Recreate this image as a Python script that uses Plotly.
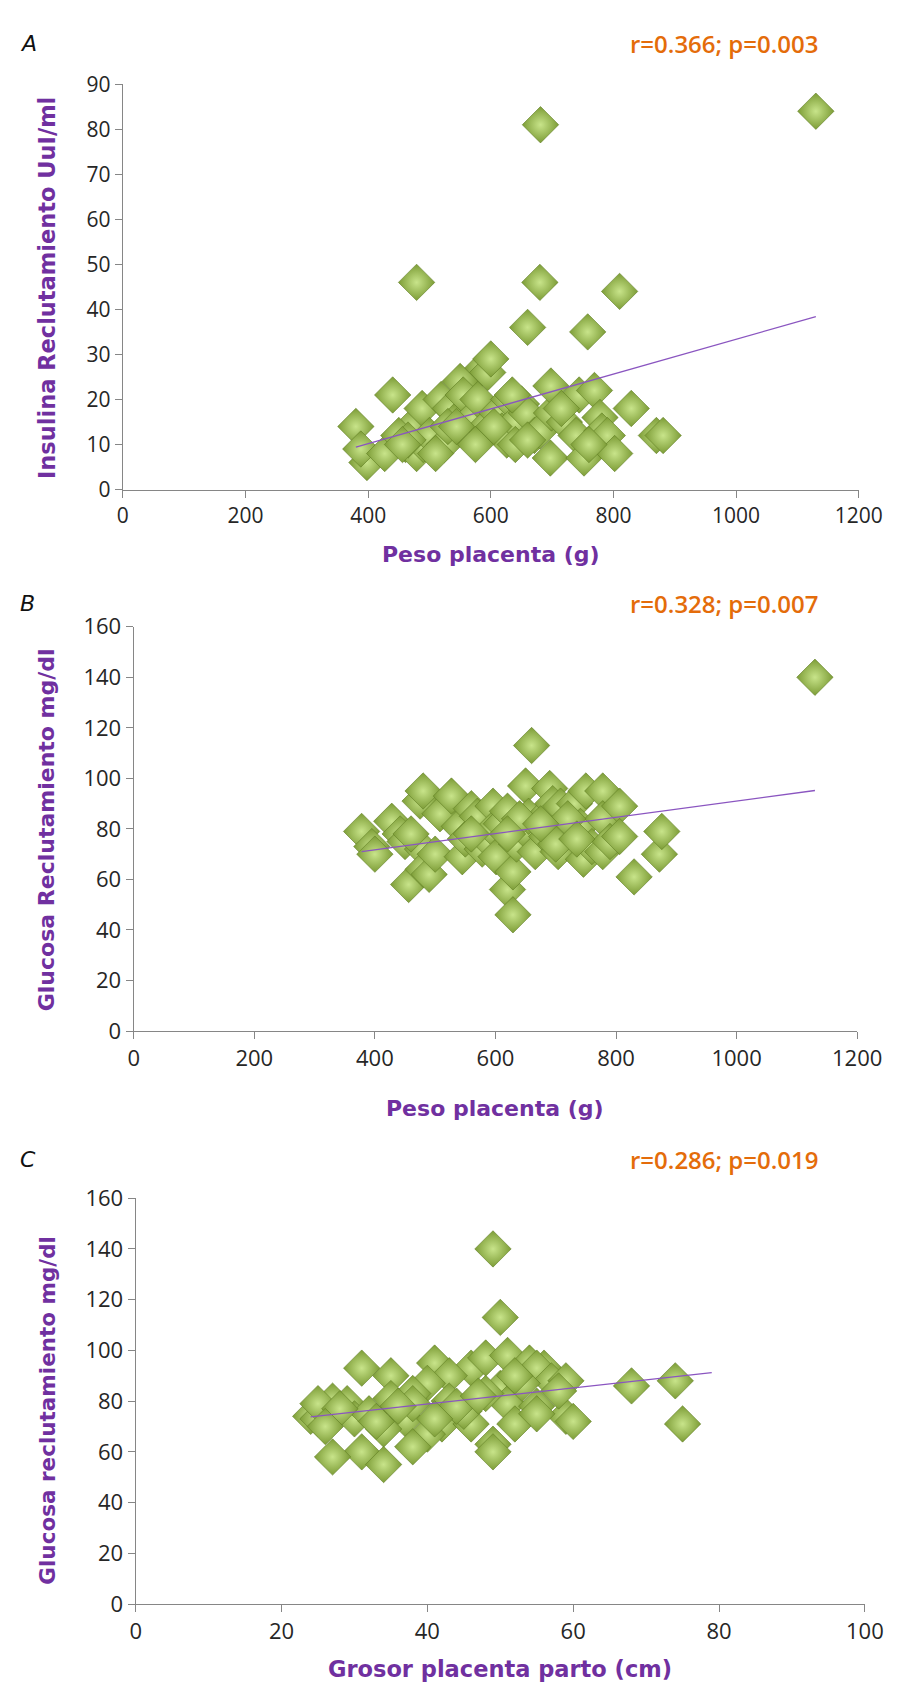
import plotly.graph_objects as go

# Panel A: Peso placenta (g) vs Insulina reclutamiento
peso_a = [380, 398, 388, 427, 440, 461, 471, 479, 488, 490, 500, 519, 524, 534, 540,
          550, 555, 560, 570, 579, 587, 595, 600, 592, 610, 618, 626, 629, 640, 650,
          658, 660, 671, 680, 697, 699, 698, 720, 744, 739, 752, 758, 769, 778, 781,
          790, 802, 810, 829, 870, 881, 479, 680, 681, 1130, 450, 465, 510, 530, 575,
          605, 640, 660, 715, 760, 635, 456, 544]
insulina_a = [14, 6, 9, 8, 21, 10, 14, 8, 18, 10, 12, 20, 10, 18, 15,
              24, 21, 13, 16, 20, 27, 26, 29, 14, 17, 13, 11, 20, 15, 19,
              17, 36, 12, 13, 7, 17, 23, 15, 21, 12, 7, 35, 22, 16, 13,
              12, 8, 44, 18, 12, 12, 46, 46, 81, 84, 12, 11, 8, 14, 10,
              14, 10, 11, 18, 10, 21, 10, 14]
trend_a_x = [380, 1130]
trend_a_y = [9.4, 38.4]

# Panel B: Peso placenta (g) vs Glucosa reclutamiento
peso_b = [378, 395, 400, 428, 442, 450, 456, 475, 480, 479, 480, 490, 500, 508, 527,
          540, 545, 550, 560, 570, 578, 590, 596, 596, 601, 610, 620, 620, 629, 629,
          635, 647, 650, 655, 660, 666, 685, 685, 690, 695, 704, 708, 715, 731, 741,
          746, 750, 760, 778, 778, 778, 790, 806, 806, 830, 872, 876, 1130, 560, 640,
          700, 720, 460, 620, 675, 735]
glucosa_b = [79, 73, 70, 83, 78, 75, 58, 91, 95, 72, 64, 62, 70, 86, 93,
             81, 69, 76, 88, 85, 72, 75, 89, 80, 69, 82, 87, 56, 63, 46,
             74, 80, 97, 85, 113, 71, 86, 77, 96, 90, 71, 89, 80, 90, 81,
             68, 95, 73, 95, 84, 71, 75, 89, 77, 61, 70, 79, 140, 78, 84,
             74, 84, 78, 78, 82, 76]
trend_b_x = [378, 1130]
trend_b_y = [71, 95.2]

# Panel C: Grosor placenta parto (cm) vs Glucosa reclutamiento
grosor_c = [49, 50, 31, 35, 41, 46, 48, 51, 54, 56, 55, 43, 57, 59, 40,
            68, 74, 35, 27, 29, 38, 43, 50, 51, 55, 24, 25, 30, 32, 37,
            42, 46, 52, 59, 60, 75, 34, 40, 38, 31, 27, 34, 49, 49, 25,
            48, 45, 55, 38, 28, 33, 44, 53, 47, 36, 58, 26, 41, 52]
glucosa_c = [140, 113, 93, 90, 95, 93, 97, 98, 95, 93, 93, 90, 88, 88, 87,
             86, 88, 81, 80, 79, 83, 80, 85, 79, 78, 74, 73, 73, 75, 73,
             71, 71, 71, 74, 72, 71, 69, 67, 62, 60, 58, 55, 63, 60, 79,
             83, 76, 75, 79, 77, 72, 78, 87, 82, 78, 84, 70, 73, 90]
trend_c_x = [24, 79]
trend_c_y = [73.8, 91.2]

# the page body has an 8px margin, so the figure is shifted by it
PAD = 8
W, H = 914 - PAD, 1700 - 2 * PAD
PURPLE = "#7030a0"
ORANGE = "#e46c0a"
AXIS = "#868686"


def px(v):
    return (v - PAD) / W


def py(v):
    return 1 - (v - PAD) / H


panels = [
    dict(x=peso_a, y=insulina_a, tx=trend_a_x, ty=trend_a_y,
         xd=[120.7, 882.7], yd=[69.3, 482], xr=[0, 1200], yr=[0, 90], dx=200, dy=10,
         letter="A", stat="r=0.366; p=0.003", ylab="Insulina Reclutamiento UuI/ml",
         xlab="Peso placenta (g)", top=28, ytitle=(42, 277), ysize=22.5, xtitle_y=548,
         xsize=22, tick=21),
    dict(x=peso_b, y=glucosa_b, tx=trend_b_x, ty=trend_b_y,
         xd=[132, 881], yd=[621.7, 1033.3], xr=[0, 1200], yr=[0, 160], dx=200, dy=20,
         letter="B", stat="r=0.328; p=0.007", ylab="Glucosa Reclutamiento mg/dl",
         xlab="Peso placenta (g)", top=598, ytitle=(42, 828), ysize=22, xtitle_y=1112,
         xsize=22, tick=22),
    dict(x=grosor_c, y=glucosa_c, tx=trend_c_x, ty=trend_c_y,
         xd=[134, 889], yd=[1203.5, 1616.7], xr=[0, 100], yr=[0, 160], dx=20, dy=20,
         letter="C", stat="r=0.286; p=0.019", ylab="Glucosa reclutamiento mg/dl",
         xlab="Grosor placenta parto (cm)", top=1164, ytitle=(43, 1419), ysize=21.5,
         xtitle_y=1683, xsize=22.5, tick=22),
]

fig = go.Figure()
annotations = []
for i, p in enumerate(panels):
    n = "" if i == 0 else str(i + 1)
    fig.add_trace(go.Scatter(
        x=p["x"], y=p["y"], mode="markers", xaxis="x" + n, yaxis="y" + n,
        marker=dict(symbol="diamond", size=28, color="#7c9c36",
                    gradient=dict(type="radial", color="#c8e48a"),
                    line=dict(width=0.6, color="#5f7d24")),
        showlegend=False, hoverinfo="x+y"))
    fig.add_trace(go.Scatter(
        x=p["tx"], y=p["ty"], mode="lines", xaxis="x" + n, yaxis="y" + n,
        line=dict(color="#8a55c0", width=1.3), showlegend=False, hoverinfo="skip"))

    ax = dict(domain=[px(p["xd"][0]), px(p["xd"][1])], range=p["xr"], dtick=p["dx"],
              anchor="y" + n, showgrid=False, zeroline=False, showline=True,
              linecolor=AXIS, linewidth=1.3, ticks="outside", ticklen=7, tickcolor=AXIS,
              ticklabeloverflow="allow",
              tickfont=dict(family="Open Sans", size=p["tick"], color="#262626"))
    ay = dict(domain=[py(p["yd"][1]), py(p["yd"][0])], range=p["yr"], dtick=p["dy"],
              anchor="x" + n, showgrid=False, zeroline=False, showline=True,
              linecolor=AXIS, linewidth=1.3, ticks="outside", ticklen=7, tickcolor=AXIS,
              tickfont=dict(family="Open Sans", size=p["tick"], color="#262626"))
    fig.update_layout({"xaxis" + n: ax, "yaxis" + n: ay})

    common = dict(xref="paper", yref="paper", showarrow=False, yanchor="middle")
    annotations.append(dict(text=p["letter"], x=px(12), y=py(p["top"]), xanchor="left",
                            font=dict(family="DejaVu Sans", size=22, color="#111111", style="italic"),
                            **common))
    annotations.append(dict(text=p["stat"], x=px(644), y=py(p["top"]), xanchor="left",
                            font=dict(family="Open Sans", size=24, color=ORANGE, weight=600),
                            **common))
    annotations.append(dict(text=p["ylab"], x=px(p["ytitle"][0]), y=py(p["ytitle"][1]),
                            xanchor="center", textangle=-90,
                            font=dict(family="DejaVu Sans", size=p["ysize"], color=PURPLE,
                                      weight="bold"),
                            **common))
    annotations.append(dict(text=p["xlab"], x=px((p["xd"][0] + p["xd"][1]) / 2),
                            y=py(p["xtitle_y"]), xanchor="center",
                            font=dict(family="DejaVu Sans", size=p["xsize"], color=PURPLE,
                                      weight="bold"),
                            **common))

fig.update_layout(width=W, height=H, margin=dict(l=0, r=0, t=0, b=0),
                  paper_bgcolor="white", plot_bgcolor="white", annotations=annotations)

fig.write_html("out.html")
